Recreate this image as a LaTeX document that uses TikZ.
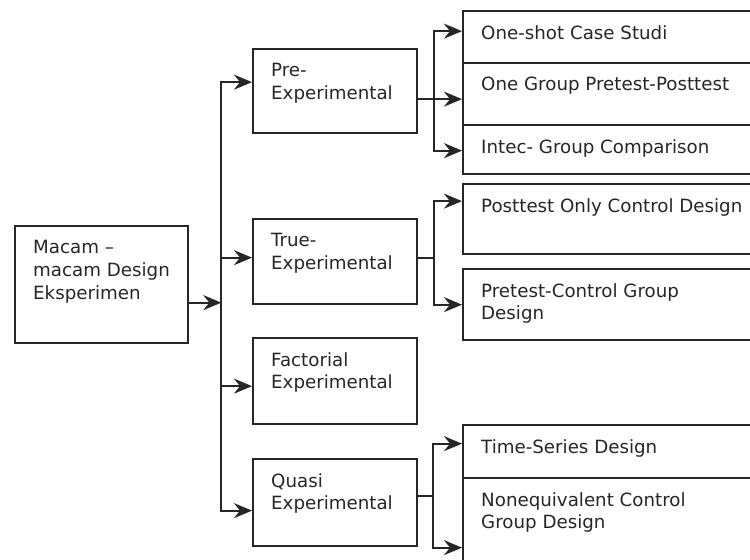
\documentclass[tikz,border=0pt]{standalone}
\usepackage{fontspec}
\setmainfont{DejaVu Sans}
\usetikzlibrary{arrows.meta,calc}

\begin{document}
\begin{tikzpicture}[x=1bp, y=-1bp,
  >={Stealth[length=18bp,width=15bp,inset=6bp]},
  kotak/.style={draw=black!85, line width=2.3bp, anchor=north west, inner sep=0pt},
  teks/.style={anchor=north west, align=left, inner sep=0pt, xshift=19bp, yshift=-15bp,
    font=\fontsize{18.3}{23}\selectfont, text=black!85},
  garis/.style={draw=black!85, line width=2bp}]

  \useasboundingbox (0,0) rectangle (750,560);
  \clip (0,0) rectangle (750,560);

  % --- kotak utama ---
  \node[kotak, minimum width=173bp, minimum height=117bp,
    label={[teks]north west:{Macam --\\macam Design\\Eksperimen}}] (macam) at (14,225) {};

  % --- jenis desain ---
  \node[kotak, minimum width=164bp, minimum height=84bp,
    label={[teks]north west:{Pre-\\Experimental}}] (pre) at (252,48) {};
  \node[kotak, minimum width=164bp, minimum height=85bp,
    label={[teks]north west:{True-\\Experimental}}] (truex) at (252,218) {};
  \node[kotak, minimum width=164bp, minimum height=86bp,
    label={[teks]north west:{Factorial\\Experimental}}] (faktor) at (252,337) {};
  \node[kotak, minimum width=164bp, minimum height=87bp,
    label={[teks]north west:{Quasi\\Experimental}}] (quasi) at (252,458) {};

  % --- sub desain (terpotong di kanan) ---
  \node[kotak, minimum width=308bp, minimum height=52bp,
    label={[teks]north west:{One-shot Case Studi}}] (oneshot) at (462,10) {};
  \node[kotak, minimum width=308bp, minimum height=62bp,
    label={[teks]north west:{One Group Pretest-Posttest}}] (onegroup) at (462,62) {};
  \node[kotak, minimum width=308bp, minimum height=49bp,
    label={[teks]north west:{Intec- Group Comparison}}] (intec) at (462,124) {};
  \node[kotak, minimum width=308bp, minimum height=70bp,
    label={[teks]north west:{Posttest Only Control Design}}] (posttest) at (462,183) {};
  \node[kotak, minimum width=308bp, minimum height=71bp,
    label={[teks]north west:{Pretest-Control Group\\Design}}] (pretest) at (462,268) {};
  \node[kotak, minimum width=308bp, minimum height=53bp,
    label={[teks]north west:{Time-Series Design}}] (timeser) at (462,424) {};
  \node[kotak, minimum width=308bp, minimum height=123bp,
    label={[teks]north west:{Nonequivalent Control\\Group Design}}] (noneq) at (462,477) {};

  % panah dari kotak utama ke batang
  \draw[garis,->] ($(macam.east)+(0,18)$) -- ++(32,0) coordinate (cabang);

  % batang ke tiap jenis desain
  \draw[garis,->] (cabang) |- ($(pre.west)+(0,-9)$);
  \draw[garis,->] (cabang) |- ($(truex.west)+(0,-4)$);
  \draw[garis,->] (cabang) |- ($(faktor.west)+(0,5)$);
  \draw[garis,->] (cabang) |- ($(quasi.west)+(0,8)$);

  % --- cabang pre-experimental ---
  \draw[garis] ($(pre.east)+(0,8)$) -- ++(16,0) coordinate (bpre);
  \draw[garis,->] (bpre) |- ($(oneshot.west)+(0,-6)$);
  \draw[garis,->] (bpre) |- ($(onegroup.west)+(0,5)$);
  \draw[garis,->] (bpre) |- ($(intec.west)+(0,1)$);

  % --- cabang true-experimental ---
  \draw[garis] ($(truex.east)+(0,-4)$) -- ++(16,0) coordinate (btrue);
  \draw[garis,->] (btrue) |- ($(posttest.west)+(0,-18)$);
  \draw[garis,->] (btrue) |- (pretest.west);

  % --- cabang quasi experimental ---
  \draw[garis] ($(quasi.east)+(0,-7)$) -- ++(15,0) coordinate (bquasi);
  \draw[garis,->] (bquasi) |- ($(timeser.west)+(0,-8)$);
  \draw[garis,->] (bquasi) |- ($(noneq.west)+(0,8)$);
\end{tikzpicture}
\end{document}
